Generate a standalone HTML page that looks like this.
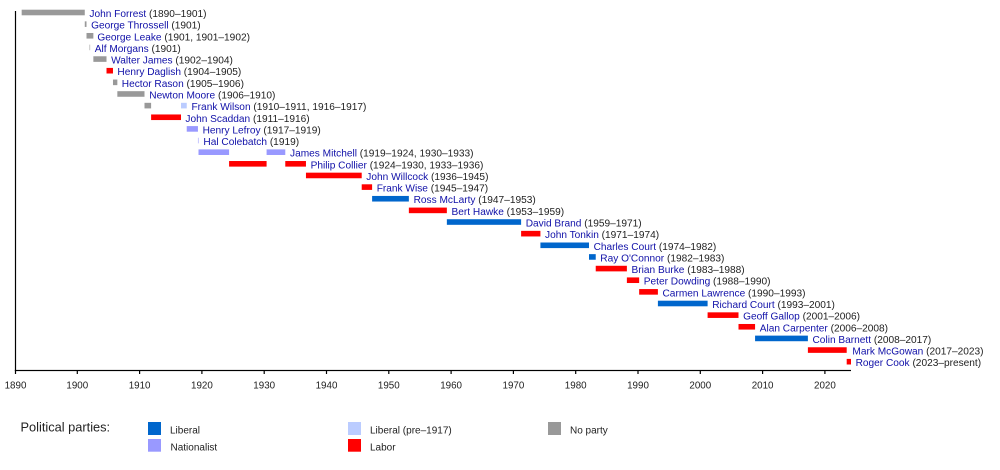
<!DOCTYPE html>
<html>
<head>
<meta charset="utf-8">
<style>
html,body{margin:0;padding:0;background:#fff;}
svg{display:block;}
text{font-family:"Liberation Sans",Arial,sans-serif;}
.l{font-size:10.15px;fill:#222;}
.n{fill:#1010a8;}
.t{font-size:9.8px;fill:#222;text-anchor:middle;}
.g{font-size:10px;fill:#222;}
</style>
</head>
<body>
<svg width="1000" height="470" viewBox="0 0 1000 470" xmlns="http://www.w3.org/2000/svg">
<rect width="1000" height="470" fill="#fff"/>

<!-- bars -->
<g>
<rect x="21.67" y="9.70" width="63.10" height="5.6" fill="#999999"/>
<rect x="84.77" y="21.34" width="1.74" height="5.6" fill="#999999"/>
<rect x="86.51" y="32.98" width="6.85" height="5.6" fill="#999999"/>
<rect x="89.56" y="44.62" width="0.56" height="5.6" fill="#999999"/>
<rect x="93.36" y="56.26" width="13.15" height="5.6" fill="#999999"/>
<rect x="106.51" y="67.90" width="6.47" height="5.6" fill="#ff0000"/>
<rect x="112.98" y="79.54" width="4.36" height="5.6" fill="#999999"/>
<rect x="117.34" y="91.18" width="27.16" height="5.6" fill="#999999"/>
<rect x="144.50" y="102.82" width="6.61" height="5.6" fill="#999999"/>
<rect x="181.00" y="102.82" width="5.74" height="5.6" fill="#bbccff"/>
<rect x="151.11" y="114.46" width="29.89" height="5.6" fill="#ff0000"/>
<rect x="186.74" y="126.10" width="11.21" height="5.6" fill="#9999ff"/>
<rect x="197.95" y="137.74" width="0.56" height="5.6" fill="#9999ff"/>
<rect x="198.51" y="149.38" width="30.58" height="5.6" fill="#9999ff"/>
<rect x="266.59" y="149.38" width="18.69" height="5.6" fill="#9999ff"/>
<rect x="229.09" y="161.02" width="37.50" height="5.6" fill="#ff0000"/>
<rect x="285.28" y="161.02" width="20.68" height="5.6" fill="#ff0000"/>
<rect x="305.96" y="172.66" width="55.75" height="5.6" fill="#ff0000"/>
<rect x="361.71" y="184.30" width="10.40" height="5.6" fill="#ff0000"/>
<rect x="372.11" y="195.94" width="36.75" height="5.6" fill="#0066cc"/>
<rect x="408.86" y="207.58" width="38.00" height="5.6" fill="#ff0000"/>
<rect x="446.86" y="219.22" width="74.25" height="5.6" fill="#0066cc"/>
<rect x="521.11" y="230.86" width="19.31" height="5.6" fill="#ff0000"/>
<rect x="540.42" y="242.50" width="48.58" height="5.6" fill="#0066cc"/>
<rect x="589.00" y="254.14" width="6.73" height="5.6" fill="#0066cc"/>
<rect x="595.73" y="265.78" width="31.15" height="5.6" fill="#ff0000"/>
<rect x="626.88" y="277.42" width="12.27" height="5.6" fill="#ff0000"/>
<rect x="639.15" y="289.06" width="18.75" height="5.6" fill="#ff0000"/>
<rect x="657.90" y="300.70" width="49.70" height="5.6" fill="#0066cc"/>
<rect x="707.60" y="312.34" width="30.90" height="5.6" fill="#ff0000"/>
<rect x="738.50" y="323.98" width="16.57" height="5.6" fill="#ff0000"/>
<rect x="755.07" y="335.62" width="52.82" height="5.6" fill="#0066cc"/>
<rect x="807.89" y="347.26" width="38.81" height="5.6" fill="#ff0000"/>
<rect x="846.70" y="358.90" width="4.30" height="5.6" fill="#ff0000"/>
</g>

<!-- labels -->
<g class="l">
<text x="89.4" y="17.0"><tspan class="n">John Forrest</tspan> (1890–1901)</text>
<text x="91.1" y="28.64"><tspan class="n">George Throssell</tspan> (1901)</text>
<text x="97.4" y="40.28"><tspan class="n">George Leake</tspan> (1901, 1901–1902)</text>
<text x="94.7" y="51.92"><tspan class="n">Alf Morgans</tspan> (1901)</text>
<text x="111.1" y="63.56"><tspan class="n">Walter James</tspan> (1902–1904)</text>
<text x="117.4" y="75.20"><tspan class="n">Henry Daglish</tspan> (1904–1905)</text>
<text x="121.8" y="86.84"><tspan class="n">Hector Rason</tspan> (1905–1906)</text>
<text x="149.3" y="98.48"><tspan class="n">Newton Moore</tspan> (1906–1910)</text>
<text x="191.5" y="110.12"><tspan class="n">Frank Wilson</tspan> (1910–1911, 1916–1917)</text>
<text x="185.4" y="121.76"><tspan class="n">John Scaddan</tspan> (1911–1916)</text>
<text x="202.6" y="133.40"><tspan class="n">Henry Lefroy</tspan> (1917–1919)</text>
<text x="203.4" y="145.04"><tspan class="n">Hal Colebatch</tspan> (1919)</text>
<text x="290.0" y="156.68"><tspan class="n">James Mitchell</tspan> (1919–1924, 1930–1933)</text>
<text x="310.6" y="168.32"><tspan class="n">Philip Collier</tspan> (1924–1930, 1933–1936)</text>
<text x="366.3" y="179.96"><tspan class="n">John Willcock</tspan> (1936–1945)</text>
<text x="376.7" y="191.60"><tspan class="n">Frank Wise</tspan> (1945–1947)</text>
<text x="413.6" y="203.24"><tspan class="n">Ross McLarty</tspan> (1947–1953)</text>
<text x="451.5" y="214.88"><tspan class="n">Bert Hawke</tspan> (1953–1959)</text>
<text x="525.7" y="226.52"><tspan class="n">David Brand</tspan> (1959–1971)</text>
<text x="545.0" y="238.16"><tspan class="n">John Tonkin</tspan> (1971–1974)</text>
<text x="593.6" y="249.80"><tspan class="n">Charles Court</tspan> (1974–1982)</text>
<text x="600.3" y="261.44"><tspan class="n">Ray O'Connor</tspan> (1982–1983)</text>
<text x="631.5" y="273.08"><tspan class="n">Brian Burke</tspan> (1983–1988)</text>
<text x="643.8" y="284.72"><tspan class="n">Peter Dowding</tspan> (1988–1990)</text>
<text x="662.5" y="296.36"><tspan class="n">Carmen Lawrence</tspan> (1990–1993)</text>
<text x="712.2" y="308.00"><tspan class="n">Richard Court</tspan> (1993–2001)</text>
<text x="743.1" y="319.64"><tspan class="n">Geoff Gallop</tspan> (2001–2006)</text>
<text x="759.7" y="331.28"><tspan class="n">Alan Carpenter</tspan> (2006–2008)</text>
<text x="812.5" y="342.92"><tspan class="n">Colin Barnett</tspan> (2008–2017)</text>
<text x="852.4" y="354.56"><tspan class="n">Mark McGowan</tspan> (2017–2023)</text>
<text x="855.6" y="366.20"><tspan class="n">Roger Cook</tspan> (2023–present)</text>
</g>

<!-- axes -->
<rect x="14.9" y="11" width="1.2" height="360" fill="#000"/>
<rect x="14.9" y="369.9" width="836.1" height="1.2" fill="#000"/>
<g fill="#000">
<rect x="14.9" y="370" width="1.2" height="4"/>
<rect x="76.7" y="370" width="1.2" height="4"/>
<rect x="139.0" y="370" width="1.2" height="4"/>
<rect x="201.3" y="370" width="1.2" height="4"/>
<rect x="263.6" y="370" width="1.2" height="4"/>
<rect x="325.9" y="370" width="1.2" height="4"/>
<rect x="388.2" y="370" width="1.2" height="4"/>
<rect x="450.5" y="370" width="1.2" height="4"/>
<rect x="512.8" y="370" width="1.2" height="4"/>
<rect x="575.1" y="370" width="1.2" height="4"/>
<rect x="637.4" y="370" width="1.2" height="4"/>
<rect x="699.7" y="370" width="1.2" height="4"/>
<rect x="762.0" y="370" width="1.2" height="4"/>
<rect x="824.3" y="370" width="1.2" height="4"/>
</g>
<g class="t">
<text x="15.5" y="388.7">1890</text>
<text x="77.3" y="388.7">1900</text>
<text x="139.6" y="388.7">1910</text>
<text x="201.9" y="388.7">1920</text>
<text x="264.2" y="388.7">1930</text>
<text x="326.5" y="388.7">1940</text>
<text x="388.8" y="388.7">1950</text>
<text x="451.1" y="388.7">1960</text>
<text x="513.4" y="388.7">1970</text>
<text x="575.7" y="388.7">1980</text>
<text x="638.0" y="388.7">1990</text>
<text x="700.3" y="388.7">2000</text>
<text x="762.6" y="388.7">2010</text>
<text x="824.9" y="388.7">2020</text>
</g>

<!-- legend -->
<text x="20.5" y="431.5" style="font-size:12.8px;fill:#222;">Political parties:</text>
<rect x="148" y="422" width="13" height="13" fill="#0066cc"/>
<text class="g" x="170" y="433.6">Liberal</text>
<rect x="148" y="439" width="13" height="12.7" fill="#9999ff"/>
<text class="g" x="170.5" y="450.6">Nationalist</text>
<rect x="348" y="422" width="13" height="13" fill="#bbccff"/>
<text class="g" x="370" y="433.6">Liberal (pre–1917)</text>
<rect x="348" y="439" width="13" height="12.7" fill="#ff0000"/>
<text class="g" x="370" y="450.6">Labor</text>
<rect x="548" y="422" width="13" height="13" fill="#999999"/>
<text class="g" x="570" y="433.6">No party</text>
</svg>
</body>
</html>
